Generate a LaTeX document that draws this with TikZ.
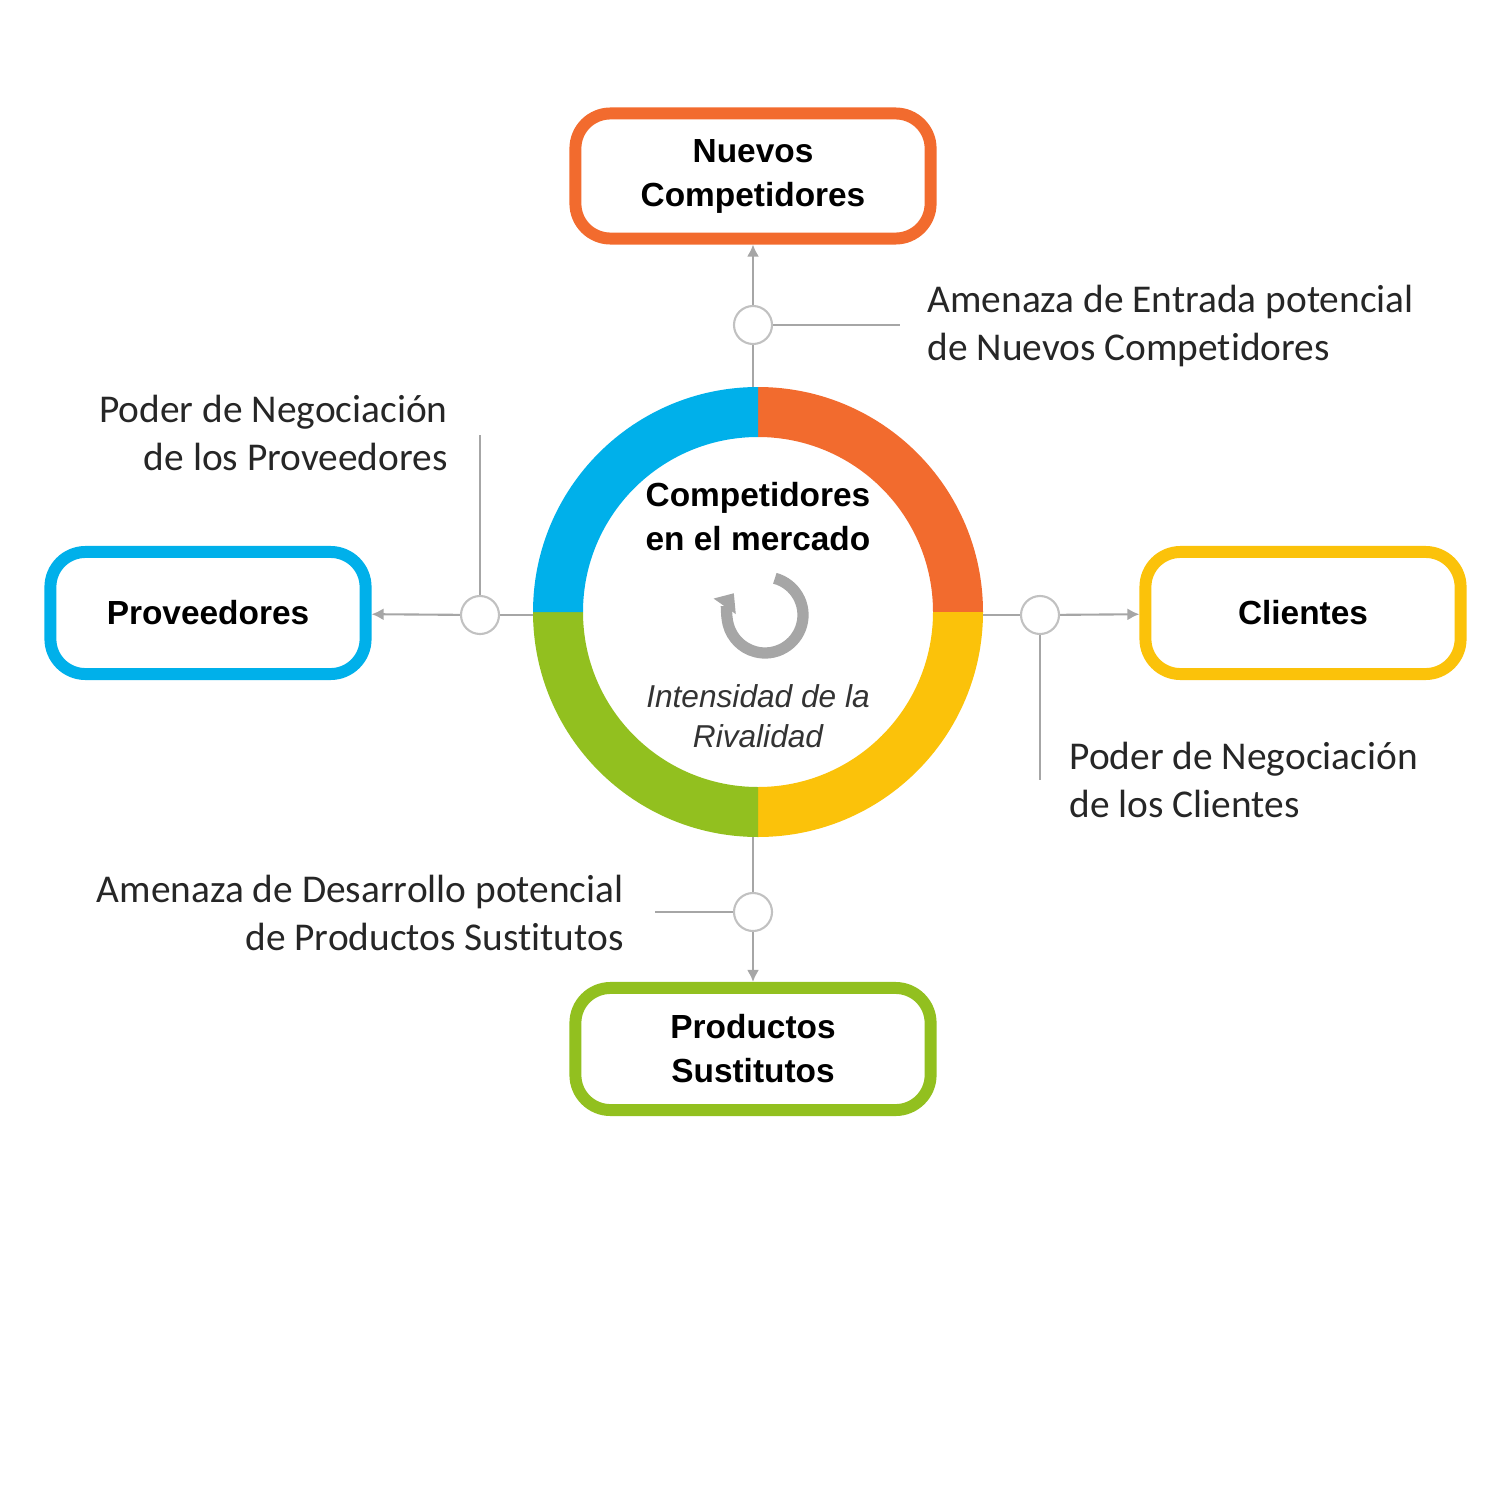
\documentclass[tikz,border=0pt]{standalone}
\usepackage{fontspec}
\setmainfont{Liberation Sans}
\newfontfamily\annf[Ligatures=NoCommon]{Carlito}
\usetikzlibrary{arrows.meta}
\definecolor{cor}{HTML}{F26B2E}
\definecolor{cye}{HTML}{FBC20A}
\definecolor{cgr}{HTML}{92C01F}
\definecolor{cbl}{HTML}{00B0EA}
\definecolor{lgr}{HTML}{A6A6A6}
\begin{document}
\begin{tikzpicture}[x=0.01cm,y=-0.01cm,
 box/.style={draw=#1,line width=3.4pt,rounded corners=0.35cm,fill=white,align=center,font=\bfseries\fontsize{9.5}{12.5}\selectfont},
 conn/.style={draw=lgr,line width=0.6pt},
 arr/.style={conn,-{Latex[length=0.12cm,width=0.12cm]}},
 dot/.style={circle,draw=lgr!70,line width=0.6pt,fill=white,minimum size=0.38cm,inner sep=0pt},
 ann/.style={font=\annf\fontsize{11.2}{13.5}\selectfont,text=black!85}]
\useasboundingbox (0,0) rectangle (1500,1500);
% ring
\coordinate (c) at (758,612);
\fill[cor] (c) ++(-90:225) arc (-90:0:225) -- ++(180:50) arc (0:-90:175) -- cycle;
\fill[cye] (c) ++(0:225) arc (0:90:225) -- ++(-90:50) arc (90:0:175) -- cycle;
\fill[cgr] (c) ++(90:225) arc (90:180:225) -- ++(0:50) arc (180:90:175) -- cycle;
\fill[cbl] (c) ++(180:225) arc (180:270:225) -- ++(90:50) arc (270:180:175) -- cycle;
\coordinate (rt) at (753,387);
\coordinate (rb) at (753,837);
\coordinate (rl) at (533,615);
\coordinate (rr) at (983,615);
% boxes
\node[box=cor,minimum width=3.55cm,minimum height=1.25cm] (nc) at (753,176) {Nuevos\\Competidores};
\node[box=cbl,minimum width=3.15cm,minimum height=1.22cm] (pr) at (208,613) {Proveedores};
\node[box=cye,minimum width=3.15cm,minimum height=1.22cm] (cl) at (1303,613) {Clientes};
\node[box=cgr,minimum width=3.55cm,minimum height=1.22cm] (ps) at (753,1049) {Productos\\Sustitutos};
% connectors
\node[dot] (d1) at (753,325) {};
\node[dot] (d2) at (480,615) {};
\node[dot] (d3) at (1040,615) {};
\node[dot] (d4) at (753,912) {};
\coordinate (e1) at (900,325);
\coordinate (e2) at (480,435);
\coordinate (e3) at (1040,780);
\coordinate (e4) at (655,912);
\draw[conn] (rt) -- (d1);
\draw[arr] (d1) -- (nc);
\draw[conn] (d1) -- (e1);
\draw[conn] (rl) -- (d2);
\draw[arr] (d2) -- (pr);
\draw[conn] (d2) -- (e2);
\draw[conn] (rr) -- (d3);
\draw[arr] (d3) -- (cl);
\draw[conn] (d3) -- (e3);
\draw[conn] (rb) -- (d4);
\draw[arr] (d4) -- (ps);
\draw[conn] (d4) -- (e4);
% annotations
\node[ann,anchor=west,align=left] (a1) at (915,326) {Amenaza de Entrada potencial\\de Nuevos Competidores};
\node[ann,anchor=east,align=right] (a2) at (460,433) {Poder de Negociación\\de los Proveedores};
\node[ann,anchor=west,align=left] (a3) at (1057,780) {Poder de Negociación\\de los Clientes};
\node[ann,anchor=east,align=right] (a4) at (636,913) {Amenaza de Desarrollo potencial\\de Productos Sustitutos};
% center
\node[align=center,font=\bfseries\fontsize{9.5}{12.5}\selectfont] (ct) at (758,517) {Competidores\\en el mercado};
\node[align=center,font=\itshape\fontsize{9}{11.5}\selectfont,text=black!80] (cb) at (758,716) {Intensidad de la\\Rivalidad};
\draw[lgr,line width=3.2pt,-{Triangle[length=0.16cm,width=0.26cm]}] (765,615) ++(-75:38) arc (-75:215:38);
\end{tikzpicture}
\end{document}
